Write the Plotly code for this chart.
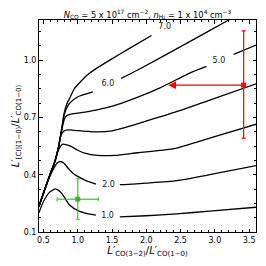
import plotly.graph_objects as go

# ---- contour curves, None = gap where inline label sits ----
c1_x = [0.434, 0.49, 0.58, 0.67, 0.72, 0.78, 0.876, 1.02, 1.14, 1.265, None, 1.614, 2.0, 2.44, 2.925, 3.61]
c1_y = [0.200, 0.252, 0.305, 0.326, 0.318, 0.296, 0.243, 0.209, 0.196, 0.188, None, 0.179, 0.185, 0.195, 0.209, 0.230]

c2_x = [0.434, 0.507, 0.595, 0.66, 0.70, 0.75, 0.80, 0.857, 0.93, 1.00, 1.12, 1.265, None, 1.614, 1.80, 2.0, 2.44, 2.925, 3.61]
c2_y = [0.235, 0.31, 0.393, 0.44, 0.461, 0.469, 0.46, 0.435, 0.408, 0.391, 0.369, 0.351, None, 0.348, 0.351, 0.356, 0.369, 0.40, 0.448]

c3_x = [0.434, 0.507, 0.595, 0.667, 0.71, 0.75, 0.784, 0.842, 0.905, 1.0, 1.10, 1.29, 1.54, 1.876, 2.2, 2.44, 2.925, 3.61]
c3_y = [0.233, 0.311, 0.40, 0.47, 0.52, 0.55, 0.56, 0.556, 0.548, 0.528, 0.513, 0.501, 0.501, 0.515, 0.527, 0.539, 0.591, 0.665]

c4_x = [0.434, 0.507, 0.595, 0.667, 0.72, 0.76, 0.80, 0.857, 0.944, 1.05, 1.29, 1.5, 1.7, 1.95, 2.44, 2.925, 3.61]
c4_y = [0.233, 0.311, 0.40, 0.47, 0.545, 0.61, 0.629, 0.635, 0.632, 0.629, 0.624, 0.63, 0.648, 0.675, 0.73, 0.791, 0.877]

c5_x = [0.434, 0.507, 0.595, 0.667, 0.72, 0.77, 0.809, 0.842, 0.905, 1.0, 1.148, 1.391, 1.633, 1.876, 2.2, 2.488, 2.633, 2.877, None, 3.274, 3.61]
c5_y = [0.233, 0.311, 0.40, 0.47, 0.545, 0.64, 0.695, 0.71, 0.717, 0.722, 0.73, 0.748, 0.774, 0.806, 0.855, 0.906, 0.932, 0.967, None, 1.03, 1.08]

c6_x = [0.434, 0.507, 0.595, 0.667, 0.72, 0.77, 0.80, 0.84, 0.882, 1.002, 1.221, None, 1.633, 1.876, 2.633, 3.143, 3.3]
c6_y = [0.233, 0.311, 0.40, 0.47, 0.545, 0.645, 0.71, 0.75, 0.774, 0.808, 0.834, None, 0.904, 0.948, 1.097, 1.198, 1.23]

c7_x = [0.434, 0.507, 0.595, 0.667, 0.72, 0.77, 0.80, 0.84, 0.882, 0.954, 1.148, 1.275, 1.468, 1.76, 2.076]
c7_y = [0.233, 0.311, 0.40, 0.47, 0.545, 0.65, 0.72, 0.77, 0.80, 0.852, 0.925, 0.957, 1.0, 1.063, 1.129]

# inline contour labels
label_text = ["1.0", "2.0", "5.0", "6.0", "7.0"]
label_x = [1.435, 1.449, 3.06, 1.44, 2.269]
label_y = [0.182, 0.348, 0.996, 0.873, 1.176]

# observations
red_x = [3.42]
red_y = [0.869]
red_yerr_up = [0.284]
red_yerr_down = [0.278]
red_x_limit = [2.32]

green_x = [1.0]
green_y = [0.272]
green_xerr = [0.30]
green_yerr = [0.107]

x_ticks = [0.5, 1.0, 1.5, 2.0, 2.5, 3.0, 3.5]
y_ticks = [0.1, 0.4, 0.7, 1.0]

FONT = "DejaVu Sans"

fig = go.Figure()
for cx, cy in [(c1_x, c1_y), (c2_x, c2_y), (c3_x, c3_y), (c4_x, c4_y),
               (c5_x, c5_y), (c6_x, c6_y), (c7_x, c7_y)]:
    fig.add_trace(go.Scatter(x=cx, y=cy, mode="lines", connectgaps=False,
                             line=dict(color="black", width=1.3, shape="spline", smoothing=0.6),
                             showlegend=False, hoverinfo="skip"))

fig.add_trace(go.Scatter(x=label_x, y=label_y, mode="text", text=label_text,
                         textfont=dict(family=FONT, size=8, color="#222"),
                         showlegend=False, hoverinfo="skip"))

# green point with error bars
fig.add_trace(go.Scatter(
    x=green_x, y=green_y, mode="markers",
    marker=dict(symbol="square", size=5, color="rgba(40,170,20,0.85)"),
    error_x=dict(type="data", array=green_xerr, color="rgba(60,180,40,0.75)", thickness=1.5, width=2),
    error_y=dict(type="data", array=green_yerr, color="rgba(60,180,40,0.75)", thickness=1.5, width=2),
    showlegend=False))

# red point: vertical error bar and left arrow (upper limit)
fig.add_trace(go.Scatter(
    x=red_x, y=red_y, mode="markers",
    marker=dict(symbol="square", size=5, color="red"),
    error_y=dict(type="data", array=red_yerr_up, arrayminus=red_yerr_down, color="red", thickness=1.2, width=2),
    showlegend=False))
fig.add_annotation(x=red_x_limit[0], y=red_y[0], ax=red_x[0], ay=red_y[0],
                   xref="x", yref="y", axref="x", ayref="y", text="",
                   showarrow=True, arrowhead=2, arrowsize=1.2, arrowwidth=1.3, arrowcolor="red")

fig.update_layout(
    width=266, height=266,
    margin=dict(l=31, r=18, t=12, b=42, autoexpand=False),
    paper_bgcolor="white", plot_bgcolor="white",
    font=dict(family=FONT, size=8, color="black"),
    title=dict(text="<i>N</i><sub>CO</sub> = 5 x 10<sup>17</sup> cm<sup>\u22122</sup>, <i>n</i><sub>H\u2082</sub> = 1 x 10<sup>4</sup> cm<sup>\u22123</sup>",
               font=dict(family=FONT, size=8.3, color="black"),
               xref="paper", x=0.5, xanchor="center", yref="container", y=0.975, yanchor="middle"),
    xaxis=dict(range=[0.435, 3.6], tickvals=x_ticks, ticktext=[f"{v:.1f}" for v in x_ticks],
               ticks="inside", ticklen=3.5, tickwidth=1, tickcolor="black",
               minor=dict(ticks="inside", tick0=0.5, dtick=0.1, ticklen=2, tickcolor="black"),
               showline=True, linecolor="black", linewidth=1, mirror="ticks",
               showgrid=False, zeroline=False, automargin=False,
               tickfont=dict(family=FONT, size=8),
               title=dict(text="<i>L</i>\u2032<sub>CO(3\u22122)</sub>/<i>L</i>\u2032<sub>CO(1\u22120)</sub>",
                          font=dict(family=FONT, size=10), standoff=3)),
    yaxis=dict(range=[0.1, 1.21], tickvals=y_ticks, ticktext=[f"{v:.1f}" for v in y_ticks],
               ticks="inside", ticklen=3.5, tickwidth=1, tickcolor="black",
               minor=dict(ticks="inside", tick0=0.1, dtick=0.075, ticklen=2, tickcolor="black"),
               showline=True, linecolor="black", linewidth=1, mirror="ticks",
               showgrid=False, zeroline=False, automargin=False,
               tickfont=dict(family=FONT, size=8),
               title=dict(text="<i>L</i>\u2032<sub>[CI](1\u22120)</sub>/<i>L</i>\u2032<sub>CO(1\u22120)</sub>",
                          font=dict(family=FONT, size=10), standoff=2)),
)

fig.write_html("out.html")
